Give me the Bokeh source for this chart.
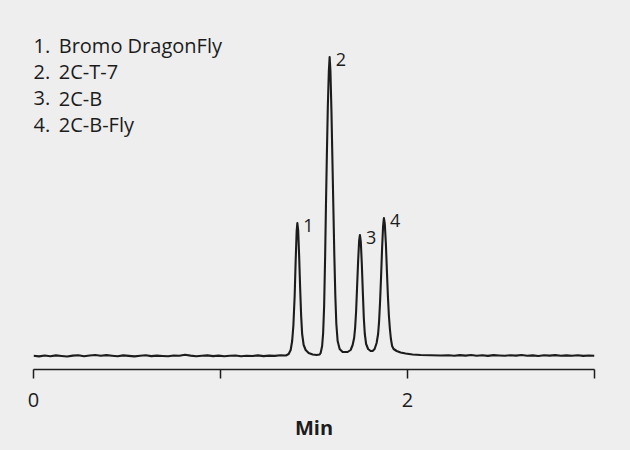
from bokeh.plotting import figure
from bokeh.models import Range1d, FixedTicker, ColumnDataSource
from bokeh.core.properties import value
from bokeh.embed import file_html
from bokeh.resources import INLINE

# ---------------- data ----------------
compound_ids = ["1.", "2.", "3.", "4."]
compound_names = ["Bromo DragonFly", "2C-T-7", "2C-B", "2C-B-Fly"]

peak_labels = ["1", "2", "3", "4"]
peak_rt = [1.411, 1.5836, 1.7456, 1.8738]      # min
peak_height = [133, 299, 121, 138]             # signal (a.u.)

# baseline before the peaks
base_left_t = [0.00, 0.03, 0.06, 0.09, 0.12, 0.15, 0.18, 0.21, 0.24, 0.27,
               0.30, 0.33, 0.36, 0.39, 0.42, 0.45, 0.48, 0.51, 0.54, 0.57,
               0.60, 0.63, 0.66, 0.69, 0.72, 0.75, 0.78, 0.81, 0.84, 0.87,
               0.90, 0.93, 0.96, 0.99, 1.02, 1.05, 1.08, 1.11, 1.14, 1.17,
               1.20, 1.23, 1.26, 1.29, 1.32, 1.35]
base_left_v = [0.3, -0.4, 0.5, -0.2, 0.6, 0.0, -0.5, 0.4, 0.8, -0.3,
               0.5, 1.0, 0.2, 0.9, 0.3, -0.2, 0.6, 0.1, -0.4, 0.3,
               0.7, -0.1, 0.4, 0.0, -0.3, 0.5, 0.2, 1.2, 0.4, -0.2,
               0.3, 0.6, -0.1, 0.4, -0.3, 0.2, 0.5, -0.2, 0.3, 0.0,
               0.6, -0.1, 0.4, 0.1, 0.8, 0.5]

# peak region
peaks_t = [1.3645, 1.3752, 1.3832, 1.3896, 1.3966, 1.4019, 1.4073, 1.4110, 1.4153, 1.4206,
           1.4259, 1.4313, 1.4366, 1.4447, 1.4554, 1.4714, 1.4928, 1.5142, 1.5302,
           1.5355, 1.5435, 1.5489, 1.5542, 1.5596, 1.5639, 1.5687, 1.5740, 1.5794, 1.5836,
           1.5879, 1.5933, 1.5986, 1.6034, 1.6088, 1.6141, 1.6195, 1.6264, 1.6371, 1.6531, 1.6692,
           1.6798, 1.6959, 1.7066, 1.7146, 1.7199, 1.7253, 1.7306, 1.7360, 1.7413, 1.7456,
           1.7504, 1.7557, 1.7611, 1.7664, 1.7717, 1.7787, 1.7894, 1.8028, 1.8134,
           1.8241, 1.8348, 1.8428, 1.8482, 1.8535, 1.8588, 1.8642, 1.8695, 1.8738,
           1.8786, 1.8845, 1.8899, 1.8952, 1.9006, 1.9059, 1.9113, 1.9177, 1.9257,
           1.9420, 1.9630, 1.9900, 2.0270, 2.0700, 2.1770]
peaks_v = [2, 6, 15, 30, 60, 95, 125, 133, 126, 100,
           68, 40, 22, 11, 6, 3, 1.5, 1, 1.5,
           3, 10, 23, 50, 100, 150, 200, 250, 285, 299,
           285, 245, 195, 150, 100, 60, 32, 15, 7, 4, 4,
           4, 6, 11, 18, 28, 45, 70, 95, 115, 121,
           114, 92, 64, 38, 22, 12, 7, 5, 5,
           7, 13, 22, 35, 55, 80, 108, 130, 138,
           132, 112, 85, 60, 40, 27, 17, 10, 7,
           5, 3.5, 2.5, 1.5, 1, 0.5]

# baseline after the peaks
base_right_t = [2.22, 2.25, 2.28, 2.31, 2.34, 2.37, 2.40, 2.43, 2.46, 2.49,
                2.52, 2.55, 2.58, 2.61, 2.64, 2.67, 2.70, 2.73, 2.76, 2.79,
                2.82, 2.85, 2.88, 2.91, 2.94, 2.97, 3.00]
base_right_v = [0.8, 0.2, 0.9, 0.4, 1.0, 0.3, 0.7, 0.1, 0.9, 0.5,
                0.2, 0.8, 0.4, 1.0, 0.3, 0.6, 0.0, 0.7, 0.4, 0.9,
                0.2, 0.6, 0.3, 0.8, 0.1, 0.5, 0.3]

x_ticks = [0, 1, 2, 3]
x_tick_labels = {0: "0", 1: "", 2: "2", 3: ""}

# ---------------- figure ----------------
BG = "#EEEEEE"
INK = "#1c1c1c"
FONT = "Open Sans"

p = figure(width=630, height=450, output_backend="svg", toolbar_location=None,
           x_range=Range1d(0, 3), y_range=Range1d(-13.5, 355.5),
           y_axis_location=None,
           min_border_left=33, min_border_right=36, min_border_top=0, min_border_bottom=81,
           background_fill_color=BG, border_fill_color=BG, outline_line_color=None)
p.grid.visible = False

trace_t = base_left_t + peaks_t + base_right_t
trace_v = base_left_v + peaks_v + base_right_v
p.line(trace_t, trace_v, line_color=INK, line_width=2.1, line_join="round")

# peak numbers
p.text(x=peak_rt, y=peak_height, text=peak_labels, x_offset=6, y_offset=2,
       text_font=value(FONT), text_font_size="18px", text_color=INK,
       text_baseline="alphabetic", text_align="left")

# compound list (top left)
leg_top = 310.5
leg_step = 26.4
leg_y = [leg_top - i * leg_step for i in range(len(compound_names))]
src = ColumnDataSource(dict(y=leg_y, ids=compound_ids, names=compound_names,
                            xi=[0.0] * len(leg_y), xn=[0.135] * len(leg_y)))
p.text(x="xi", y="y", text="ids", source=src, text_font=value(FONT),
       text_font_size="20px", text_color=INK, text_baseline="alphabetic")
p.text(x="xn", y="y", text="names", source=src, text_font=value(FONT),
       text_font_size="20px", text_color=INK, text_baseline="alphabetic")

ax = p.xaxis[0]
ax.ticker = FixedTicker(ticks=x_ticks)
ax.major_label_overrides = x_tick_labels
ax.minor_tick_out = 0
ax.minor_tick_in = 0
ax.major_tick_in = 0
ax.major_tick_out = 9
ax.major_tick_line_color = INK
ax.major_tick_line_width = 1.5
ax.axis_line_color = INK
ax.axis_line_width = 1.5
ax.major_label_standoff = 14
ax.major_label_text_font = FONT
ax.major_label_text_font_size = "20px"
ax.major_label_text_color = INK
ax.axis_label = "Min"
ax.axis_label_text_font = FONT
ax.axis_label_text_font_size = "20px"
ax.axis_label_text_font_style = "bold"
ax.axis_label_text_color = INK
ax.axis_label_standoff = 4

html = file_html(p, INLINE)
html = html.replace("</head>", "<style>html,body{background:#EEEEEE;}</style></head>", 1)
open("out.html", "w").write(html)
